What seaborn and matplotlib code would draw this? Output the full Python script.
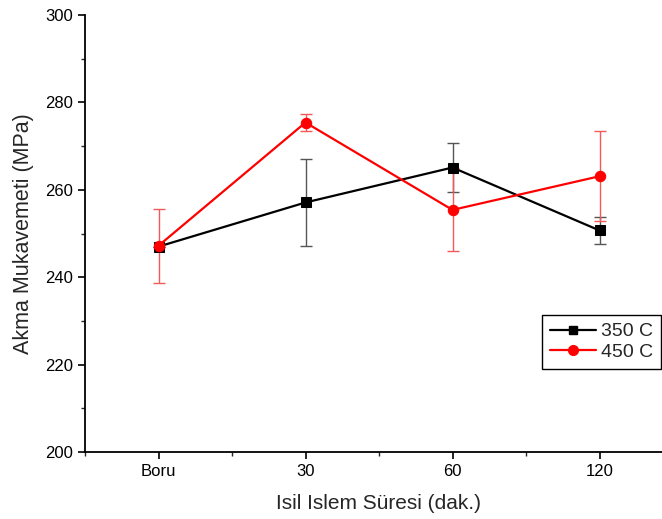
import numpy as np
import pandas as pd
import matplotlib
matplotlib.use("Agg")
import matplotlib.pyplot as plt
import seaborn as sns
from matplotlib.ticker import MultipleLocator, FixedLocator
from matplotlib.lines import Line2D

categories = ["Boru", "30", "60", "120"]
series_names = ["350 C", "450 C"]
vals_350 = [247.0, 257.1, 265.1, 250.7]
err_350 = [0.0, 9.9, 5.5, 3.1]
vals_450 = [247.2, 275.4, 255.4, 263.1]
err_450 = [8.5, 1.9, 9.5, 10.3]

sns.set_style("ticks")
plt.rcParams["font.family"] = ["Liberation Sans", "DejaVu Sans"]

df = pd.DataFrame({
    "pos": list(range(len(categories))) * 2,
    "val": vals_350 + vals_450,
    "err": err_350 + err_450,
    "series": [series_names[0]] * 4 + [series_names[1]] * 4,
})

colors = {"350 C": "black", "450 C": "#ff0000"}
ecolors = {"350 C": "#555555", "450 C": "#f25a5a"}
markers = {"350 C": "s", "450 C": "o"}
msizes = {"350 C": 6.5, "450 C": 7.5}

fig = plt.figure(figsize=(6.62, 5.19), dpi=100)
ax = fig.add_axes([85 / 662, 67 / 519, 588 / 662, 437 / 519])

for name in series_names:
    sub = df[df["series"] == name]
    ax.errorbar(sub["pos"], sub["val"], yerr=sub["err"], fmt="none",
                ecolor=ecolors[name], elinewidth=1.0, capsize=4.5,
                capthick=1.0, zorder=1)

for name in series_names:
    sub = df[df["series"] == name]
    sns.lineplot(data=sub, x="pos", y="val", ax=ax, color=colors[name],
                 marker=markers[name], markersize=msizes[name],
                 markeredgecolor=colors[name], linewidth=1.6,
                 legend=False, zorder=3)

ax.set_xlim(-0.5, 3.5)
ax.set_ylim(200, 300)
ax.xaxis.set_major_locator(FixedLocator(range(len(categories))))
ax.set_xticklabels(categories)
ax.xaxis.set_minor_locator(FixedLocator([-0.5, 0.5, 1.5, 2.5, 3.5]))
ax.yaxis.set_major_locator(MultipleLocator(20))
ax.yaxis.set_minor_locator(MultipleLocator(10))
ax.tick_params(axis="both", which="major", direction="out", length=5,
               width=1.2, labelsize=12, colors="black")
ax.tick_params(axis="both", which="minor", direction="out", length=3,
               width=1.0)
for side in ["top", "right"]:
    ax.spines[side].set_visible(False)
for side in ["left", "bottom"]:
    ax.spines[side].set_linewidth(1.3)
    ax.spines[side].set_color("black")

ax.set_xlabel("Isil Islem Süresi (dak.)", fontsize=15, labelpad=11)
ax.set_ylabel("Akma Mukavemeti (MPa)", fontsize=15.5, labelpad=8)

handles = [Line2D([0], [0], color=colors[n], marker=markers[n],
                  markersize=msizes[n] - 0.5, linewidth=1.6) for n in series_names]
leg = fig.legend(handles, series_names, loc="upper left",
                 bbox_to_anchor=(542 / 662, 1 - 315 / 519),
                 fontsize=14, frameon=True, fancybox=False, framealpha=1,
                 edgecolor="black", handlelength=2.4, borderpad=0.4,
                 labelspacing=0.15, handletextpad=0.25, borderaxespad=0)
leg.get_frame().set_linewidth(1.0)

fig.savefig("out.png", dpi=100)
